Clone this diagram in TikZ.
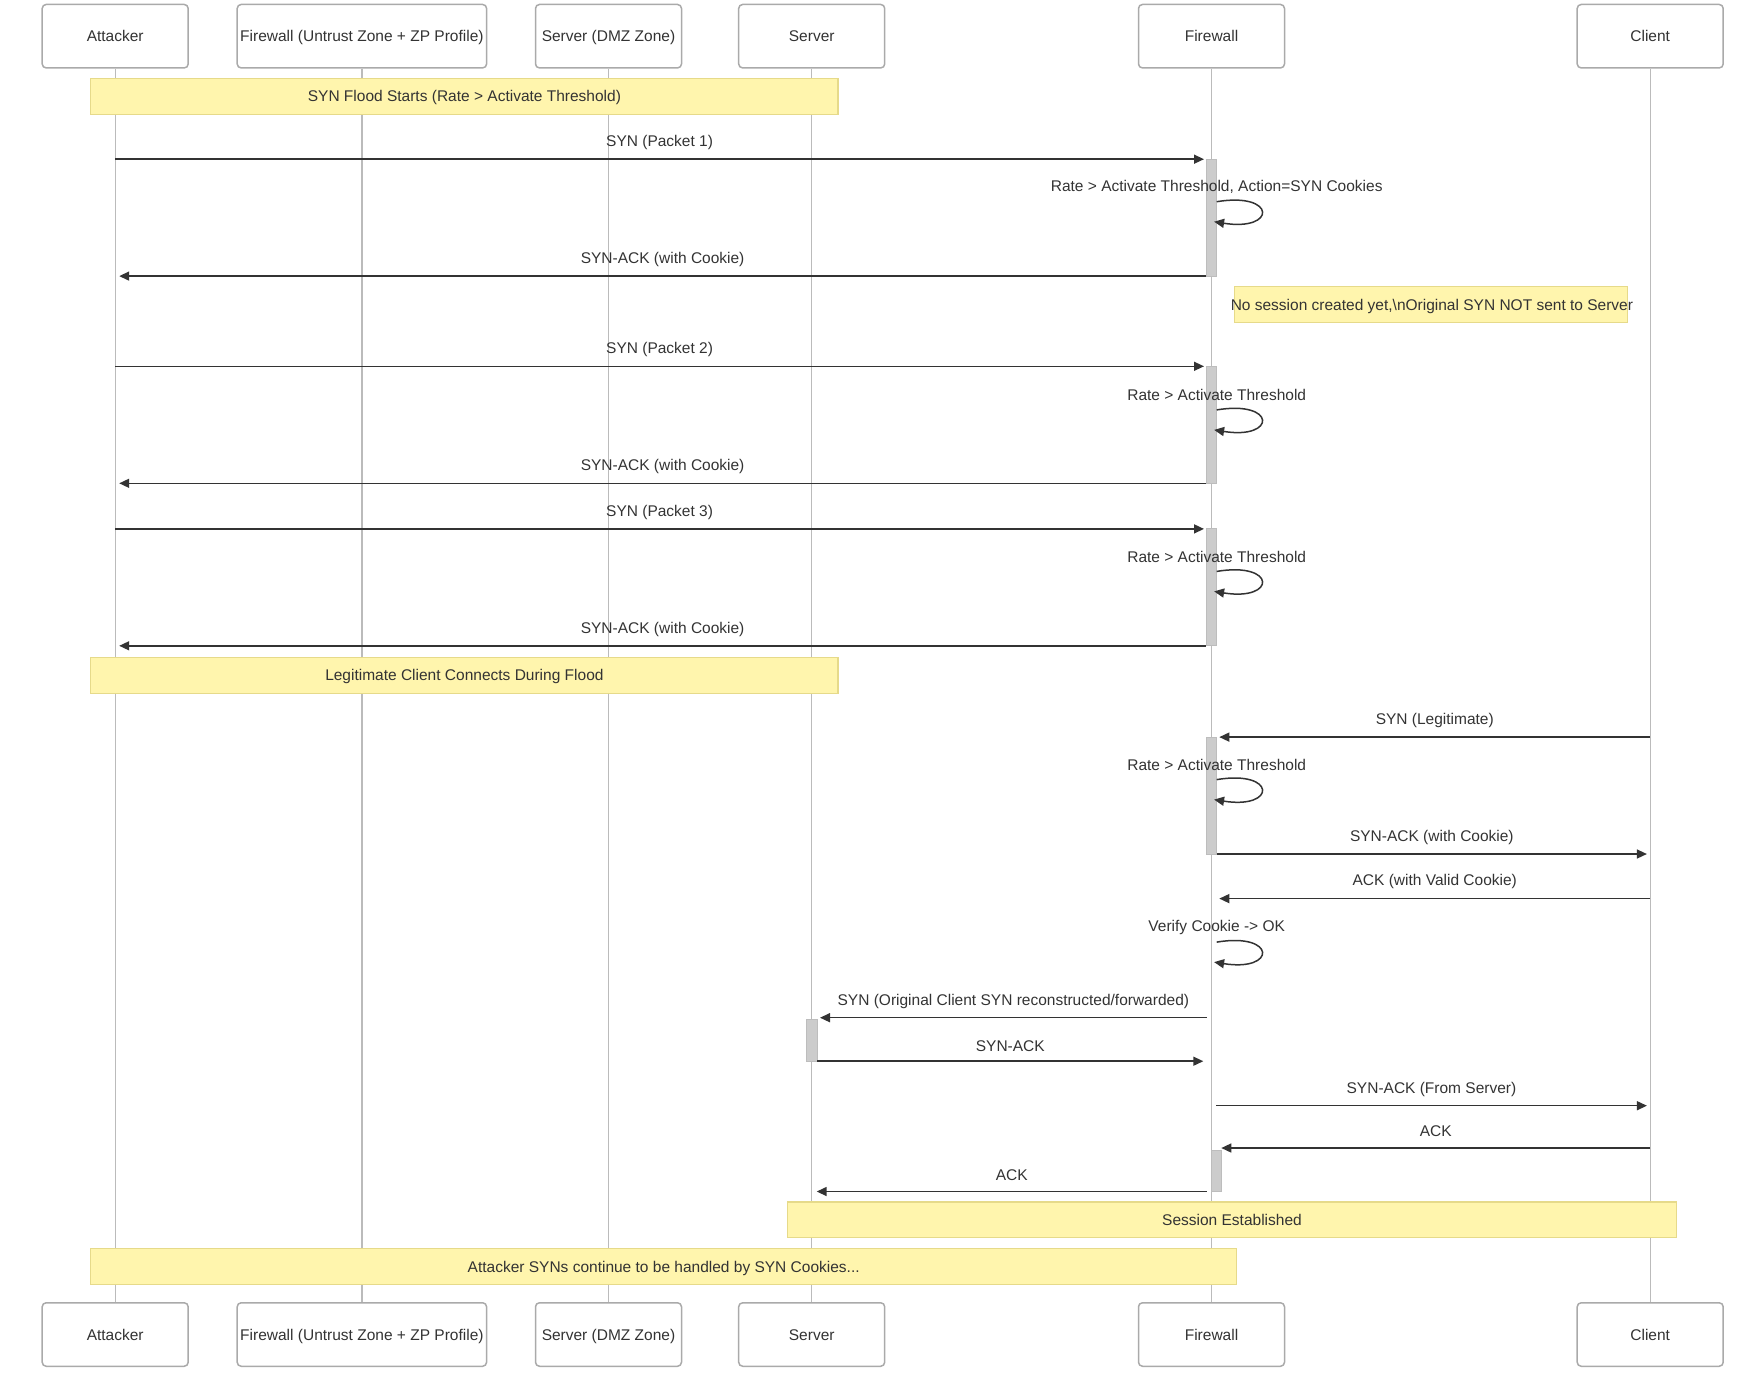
\documentclass[tikz,border=0pt]{standalone}
\usepackage{fontspec}
\setmainfont{Liberation Sans}
\usetikzlibrary{calc,arrows.meta}
\definecolor{txt}{HTML}{333333}
\definecolor{boxline}{HTML}{AAAAAA}
\definecolor{lifec}{HTML}{BBBBBB}
\definecolor{notefill}{HTML}{FFF5AD}
\definecolor{noteline}{HTML}{E6DA8A}
\definecolor{actfill}{HTML}{CCCCCC}
\definecolor{actline}{HTML}{BDBDBD}
\begin{document}
\begin{tikzpicture}[x=1pt,y=-1pt,
  font=\fontsize{15.5}{18}\selectfont,
  actor/.style={draw=boxline, line width=1.5pt, fill=white, rounded corners=4pt,
    minimum height=63.5pt, minimum width=146pt, inner sep=0pt, text=txt,
    text height=12.5pt, text depth=1.5pt},
  life/.style={draw=lifec, line width=1.2pt},
  msg/.style={draw=txt, line width=1.5pt, -{Triangle[length=10pt,width=9pt]}},
  lbl/.style={text=txt, inner sep=0pt, anchor=center},
  notebox/.style={draw=noteline, fill=notefill, line width=1.2pt, inner sep=0pt,
    anchor=north west, minimum height=35.7pt, text=txt, text height=12.5pt, text depth=1.5pt},
  act/.style={draw=actline, fill=actfill, line width=1pt},
  loopa/.style={draw=txt, line width=1.5pt, -{Triangle[length=10pt,width=9pt]}}
]
\path[use as bounding box] (0,0) rectangle (1746,1377);

% participants (top)
\node[actor] (att) at (115.2,36.2) {Attacker};
\node[actor, minimum width=249.4pt] (fwu) at (361.9,36.2) {Firewall (Untrust Zone + ZP Profile)};
\node[actor] (dmz) at (608.5,36.2) {Server (DMZ Zone)};
\node[actor] (srv) at (811.7,36.2) {Server};
\node[actor] (fw) at (1211.5,36.2) {Firewall};
\node[actor] (cli) at (1650.2,36.2) {Client};
% participants (bottom)
\node[actor] (attB) at (115.2,1334.5) {Attacker};
\node[actor, minimum width=249.4pt] (fwuB) at (361.9,1334.5) {Firewall (Untrust Zone + ZP Profile)};
\node[actor] (dmzB) at (608.5,1334.5) {Server (DMZ Zone)};
\node[actor] (srvB) at (811.7,1334.5) {Server};
\node[actor] (fwB) at (1211.5,1334.5) {Firewall};
\node[actor] (cliB) at (1650.2,1334.5) {Client};

% lifelines
\draw[life] (att) -- (attB);
\draw[life] (fwu) -- (fwuB);
\draw[life] (dmz) -- (dmzB);
\draw[life] (srv) -- (srvB);
\draw[life] (fw) -- (fwB);
\draw[life] (cli) -- (cliB);

% notes
\node[notebox, minimum width=747.2pt] (n1) at (90.2,77.9) {SYN Flood Starts (Rate > Activate Threshold)};
\node[notebox, minimum width=393pt] (n2) at (1233.8,286.2) {};
\node[lbl, text height=12.5pt, text depth=1.5pt] (n2t) at ($(n2.center)+(1,0)$) {No session created yet,\textbackslash nOriginal SYN NOT sent to Server};
\node[notebox, minimum width=747.2pt] (n3) at (90.2,657) {Legitimate Client Connects During Flood};
\node[notebox, minimum width=888.8pt] (n4) at (787,1201.4) {Session Established};
\node[notebox, minimum width=1145.8pt] (n5) at (90.2,1248.2) {Attacker SYNs continue to be handled by SYN Cookies...};

% activation bars
\draw[act] (1206.2,159.2) rectangle (1216.8,276.1);
\draw[act] (1206.2,366.3) rectangle (1216.8,483.3);
\draw[act] (1206.2,528.9) rectangle (1216.8,645.8);
\draw[act] (1206.2,737.1) rectangle (1216.8,854);
\draw[act] (806.7,1019.2) rectangle (817.3,1061.2);
\draw[act] (1211.7,1150) rectangle (1221.7,1191.7);

% messages
\draw[msg] (att |- 0,159.2) -- ($(fw |- 0,159.2)+(-7.5,0)$)
  node[lbl, midway, yshift=16.7pt] {SYN (Packet 1)};
\draw[msg] ($(fw |- 0,276.1)+(-5.5,0)$) -- ($(att |- 0,276.1)+(4,0)$)
  node[lbl, midway, yshift=16.7pt] {SYN-ACK (with Cookie)};
\draw[msg] (att |- 0,366.3) -- ($(fw |- 0,366.3)+(-7.5,0)$)
  node[lbl, midway, yshift=16.7pt] {SYN (Packet 2)};
\draw[msg] ($(fw |- 0,483.3)+(-5.5,0)$) -- ($(att |- 0,483.3)+(4,0)$)
  node[lbl, midway, yshift=16.7pt] {SYN-ACK (with Cookie)};
\draw[msg] (att |- 0,528.9) -- ($(fw |- 0,528.9)+(-7.5,0)$)
  node[lbl, midway, yshift=16.7pt] {SYN (Packet 3)};
\draw[msg] ($(fw |- 0,645.8)+(-5.5,0)$) -- ($(att |- 0,645.8)+(4,0)$)
  node[lbl, midway, yshift=16.7pt] {SYN-ACK (with Cookie)};
\draw[msg] (cli |- 0,737.1) -- ($(fw |- 0,737.1)+(7.8,0)$)
  node[lbl, midway, yshift=16.7pt] {SYN (Legitimate)};
\draw[msg] ($(fw |- 0,854)+(5.3,0)$) -- ($(cli |- 0,854)+(-3.3,0)$)
  node[lbl, midway, yshift=16.7pt] {SYN-ACK (with Cookie)};
\draw[msg] (cli |- 0,898.6) -- ($(fw |- 0,898.6)+(7.8,0)$)
  node[lbl, midway, yshift=16.7pt] {ACK (with Valid Cookie)};
\draw[msg] ($(fw |- 0,1017.7)+(-4.8,0)$) -- ($(srv |- 0,1017.7)+(8.3,0)$)
  node[lbl, midway, yshift=16.7pt] {SYN (Original Client SYN reconstructed/forwarded)};
\draw[msg] ($(srv |- 0,1061.2)+(5.6,0)$) -- ($(fw |- 0,1061.2)+(-8.2,0)$)
  node[lbl, midway, yshift=15pt] {SYN-ACK};
\draw[msg] ($(fw |- 0,1105.7)+(4.5,0)$) -- ($(cli |- 0,1105.7)+(-3.3,0)$)
  node[lbl, midway, yshift=16.7pt] {SYN-ACK (From Server)};
\draw[msg] (cli |- 0,1148) -- ($(fw |- 0,1148)+(9.8,0)$)
  node[lbl, midway, yshift=16.7pt] {ACK};
\draw[msg] ($(fw |- 0,1191.5)+(-4.8,0)$) -- ($(srv |- 0,1191.5)+(5,0)$)
  node[lbl, midway, yshift=16.7pt] {ACK};

% self loops on Firewall
\foreach \L/\T in {187.1/{Rate > Activate Threshold, Action=SYN Cookies},
                   395.3/{Rate > Activate Threshold},
                   556.8/{Rate > Activate Threshold},
                   765/{Rate > Activate Threshold},
                   927.5/{Verify Cookie -> OK}} {
  \node[lbl] at ($(fw |- 0,\L)+(5.2,0)$) {\T};
  \coordinate (ls) at ($(fw |- 0,\L)+(5.2,14.6)$);
  \draw[loopa] (ls) .. controls ($(ls)+(60,-10)$) and ($(ls)+(60,30)$) .. ($(ls)+(-2.6,20)$);
}
\end{tikzpicture}
\end{document}
